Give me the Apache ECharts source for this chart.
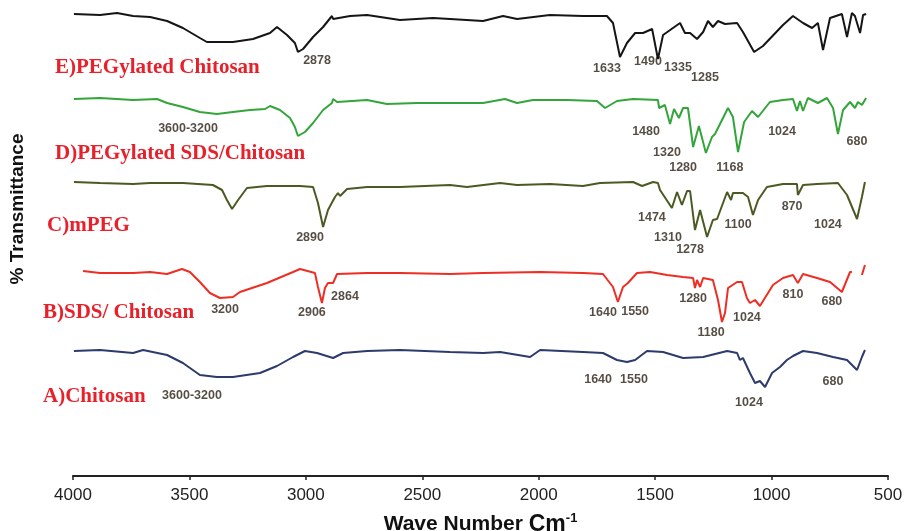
<!DOCTYPE html>
<html>
<head>
<meta charset="utf-8">
<script src="https://cdn.jsdelivr.net/npm/echarts@6/dist/echarts.min.js"></script>
<style>
  html, body { margin: 0; padding: 0; background: #fff; }
  #ftir { width: 904px; height: 531px; }
</style>
</head>
<body>
<div id="ftir"></div>
<script>
// x tick labels (wave number, cm-1), axis runs 4000 -> 500
var xTicks = [4000, 3500, 3000, 2500, 2000, 1500, 1000, 500];

// spectra: [wave number, %T (stacked, arbitrary offset)]
var specE = [[3996,92.4],[3884,92.2],[3811,92.6],[3742,92.0],[3669,91.8],[3596,91.0],[3528,89.6],[3455,87.6],[3425,86.8],[3313,86.8],[3227,87.4],[3154,88.6],[3124,89.8],[3081,88.2],[3047,86.6],[3034,84.8],[3012,85.4],[2969,87.8],[2926,89.8],[2888,92.0],[2883,91.4],[2810,92.0],[2737,92.2],[2652,91.6],[2596,91.2],[2454,91.6],[2381,91.4],[2239,91.0],[2153,92.0],[2093,91.4],[1952,92.2],[1810,92.0],[1707,92.0],[1681,90.6],[1651,83.8],[1621,86.6],[1586,88.6],[1552,88.6],[1513,89.4],[1488,83.4],[1466,88.2],[1393,90.6],[1372,88.6],[1350,88.6],[1320,87.4],[1294,88.8],[1273,91.0],[1252,89.8],[1230,91.0],[1200,90.4],[1148,90.6],[1123,88.8],[1075,84.8],[1037,86.0],[951,90.2],[908,92.0],[865,90.6],[826,89.6],[801,90.6],[779,85.2],[749,91.6],[698,92.4],[676,87.8],[655,92.6],[642,92.0],[620,88.6],[607,92.2],[594,92.4]];

var specD = [[3996,75.4],[3884,75.6],[3742,75.2],[3639,75.4],[3596,74.6],[3528,73.8],[3455,72.8],[3382,72.4],[3313,72.8],[3240,73.2],[3175,73.4],[3167,73.0],[3154,74.0],[3111,73.2],[3068,71.6],[3047,69.8],[3034,68.0],[3004,68.8],[2969,70.6],[2926,73.2],[2888,74.6],[2883,75.4],[2866,74.8],[2737,75.2],[2652,74.4],[2523,74.6],[2381,74.6],[2239,74.6],[2145,75.4],[2093,74.6],[2025,75.2],[1879,75.2],[1750,75.0],[1715,73.6],[1664,75.0],[1595,75.4],[1488,75.2],[1483,73.6],[1458,74.2],[1436,70.4],[1419,73.4],[1398,71.6],[1380,73.6],[1359,73.6],[1337,65.8],[1312,70.0],[1282,64.6],[1256,67.8],[1243,68.4],[1187,73.6],[1166,71.8],[1144,64.8],[1118,70.8],[1084,73.0],[1058,71.8],[1041,72.8],[1007,74.8],[951,75.2],[908,75.4],[891,73.0],[878,75.0],[865,73.0],[844,75.6],[801,74.6],[762,75.6],[736,73.6],[715,68.4],[693,73.2],[663,74.8],[642,73.6],[629,74.8],[612,74.2],[594,75.6]];

var specC = [[3996,58.8],[3884,58.6],[3742,58.4],[3669,58.6],[3528,58.6],[3399,58.2],[3360,57.2],[3339,55.2],[3317,53.4],[3291,55.2],[3253,57.6],[3167,58.0],[3025,58.0],[2969,57.8],[2948,54.6],[2926,49.8],[2905,53.2],[2875,55.8],[2862,56.6],[2853,56.0],[2823,57.4],[2737,57.8],[2596,57.8],[2381,58.2],[2308,57.8],[2166,58.6],[2093,58.2],[1952,58.4],[1810,58.0],[1737,58.6],[1595,58.8],[1556,58.0],[1509,58.8],[1488,58.6],[1479,57.2],[1428,53.6],[1406,56.8],[1385,54.2],[1363,57.0],[1350,57.0],[1329,49.2],[1307,53.2],[1277,47.8],[1252,51.2],[1234,51.4],[1191,56.8],[1174,55.2],[1166,56.6],[1123,56.6],[1101,55.8],[1080,52.2],[1058,55.2],[1020,57.8],[951,58.4],[891,58.4],[887,56.2],[865,58.2],[805,58.4],[715,58.6],[676,56.2],[633,51.4],[612,55.8],[599,58.8]];

var specB = [[3957,41.0],[3884,40.6],[3742,40.6],[3669,40.8],[3596,40.4],[3532,41.4],[3498,40.8],[3455,38.8],[3412,36.6],[3369,35.6],[3313,35.8],[3283,36.8],[3167,38.6],[3055,40.8],[3025,41.4],[2961,40.6],[2948,37.8],[2931,34.6],[2918,37.6],[2905,38.6],[2883,38.6],[2866,40.4],[2737,40.6],[2596,40.6],[2381,40.4],[2239,40.6],[1994,40.8],[1810,40.6],[1724,40.4],[1681,37.8],[1660,34.8],[1638,37.8],[1617,38.6],[1578,40.6],[1522,40.8],[1449,40.2],[1380,39.8],[1337,39.6],[1329,37.6],[1320,39.2],[1307,37.8],[1294,39.6],[1252,39.2],[1230,35.2],[1213,30.8],[1200,32.6],[1187,37.6],[1148,38.8],[1127,38.8],[1106,35.6],[1093,34.6],[1071,35.2],[1050,34.0],[994,38.2],[951,39.6],[908,40.2],[887,38.6],[865,40.4],[805,39.6],[749,38.8],[698,36.8],[663,40.8],[655,40.8],[640,'-'],[612,40.2],[599,42.2]];

var specA = [[3996,25.0],[3884,25.2],[3742,24.6],[3699,25.2],[3596,24.2],[3528,22.6],[3455,20.2],[3382,19.8],[3313,19.8],[3197,20.6],[3124,22.0],[3055,23.8],[3004,25.0],[2952,24.6],[2883,23.6],[2840,24.6],[2737,25.0],[2596,25.2],[2381,24.8],[2239,24.6],[2166,24.8],[2037,23.8],[1994,25.2],[1810,24.8],[1724,24.6],[1664,23.2],[1621,22.8],[1586,23.2],[1535,25.0],[1466,24.8],[1380,23.6],[1294,23.8],[1191,25.0],[1148,24.6],[1136,23.2],[1123,23.6],[1093,20.6],[1071,18.6],[1050,19.0],[1028,17.8],[998,20.6],[964,21.8],[934,23.2],[908,24.0],[865,25.0],[805,24.6],[736,23.8],[676,23.2],[633,21.2],[612,23.8],[599,25.2]];

// peak annotations: [wave number, %T, text]
var peaksE = [[2952,83,'2878'],[1707,81.4,'1633'],[1531,82.8,'1490'],[1402,81.6,'1335'],[1286,79.6,'1285']];
var peaksD = [[3506,69.4,'3600-3200'],[1539,68.8,'1480'],[1449,64.6,'1320'],[1380,61.6,'1280'],[1179,61.6,'1168'],[955,68.8,'1024'],[633,66.8,'680']];
var peaksC = [[2982,47.6,'2890'],[1514,51.6,'1474'],[1445,47.6,'1310'],[1350,45.2,'1278'],[1144,50.2,'1100'],[912,53.8,'870'],[758,50.2,'1024']];
var peaksB = [[3347,33.2,'3200'],[2974,32.6,'2906'],[2832,35.8,'2864'],[1724,32.6,'1640'],[1586,32.8,'1550'],[1337,35.4,'1280'],[1260,28.6,'1180'],[1106,31.6,'1024'],[908,36.2,'810'],[741,34.8,'680']];
var peaksA = [[3489,16,'3600-3200'],[1745,19.2,'1640'],[1591,19.2,'1550'],[1097,14.6,'1024'],[736,18.8,'680']];

var sampleNames = ['E)PEGylated Chitosan', 'D)PEGylated SDS/Chitosan', 'C)mPEG', 'B)SDS/ Chitosan', 'A)Chitosan'];

var chart = echarts.init(document.getElementById('ftir'));

var spectra = [specE, specD, specC, specB, specA];
var colors = ['#151515', '#33a53a', '#4b5a22', '#ee2e24', '#2d3a6c'];
var peaks = [].concat(peaksE, peaksD, peaksC, peaksB, peaksA);
// where each sample name sits (left edge, middle)
var namePos = [[55, 68], [55, 154], [47, 226], [43, 313], [43, 397]];

var series = spectra.map(function (d, i) {
    return {
        name: sampleNames[i],
        type: 'line',
        data: d,
        showSymbol: false,
        connectNulls: false,
        lineStyle: { color: colors[i], width: 2 },
        silent: true
    };
});
series.push({
    type: 'scatter',
    data: peaks,
    symbolSize: 0,
    silent: true,
    label: {
        show: true,
        position: 'inside',
        formatter: function (p) { return p.data[2]; },
        color: '#2a1f14',
        fontFamily: 'Liberation Sans',
        fontWeight: 'bold',
        fontSize: 12.5
    }
});

var graphics = sampleNames.map(function (n, i) {
    return {
        type: 'text',
        x: namePos[i][0],
        y: namePos[i][1],
        style: {
            text: n,
            fill: '#e8202a',
            font: 'bold 21px "Liberation Serif"',
            textAlign: 'left',
            textVerticalAlign: 'middle'
        }
    };
});
graphics.push({
    type: 'text',
    x: 18,
    y: 209,
    rotation: Math.PI / 2,
    style: {
        text: '% Transmittance',
        fill: '#111',
        font: 'bold 19px "Liberation Sans"',
        textAlign: 'center',
        textVerticalAlign: 'middle'
    }
});

var option = {
    animation: false,
    grid: { left: 73, right: 16, top: 1, bottom: 55, outerBoundsMode: 'none', containLabel: false },
    xAxis: {
        type: 'value',
        inverse: true,
        min: xTicks[xTicks.length - 1],
        max: xTicks[0],
        interval: 500,
        splitLine: { show: false },
        axisLine: { lineStyle: { color: '#222', width: 2 } },
        axisTick: { length: 4, lineStyle: { color: '#222', width: 1.5 } },
        axisLabel: {
            color: '#222',
            fontFamily: 'Liberation Sans',
            fontSize: 17,
            margin: 11,
            formatter: function (v) { return String(v); }
        },
        name: '{n|Wave Number }{c|Cm}{s|-1}',
        nameLocation: 'middle',
        nameGap: 36,
        nameTextStyle: {
            rich: {
                n: { fontFamily: 'Liberation Sans', fontWeight: 'bold', fontSize: 21, color: '#111' },
                c: { fontFamily: 'Liberation Sans', fontWeight: 'bold', fontSize: 23, color: '#111' },
                s: { fontFamily: 'Liberation Sans', fontWeight: 'bold', fontSize: 13, color: '#111', verticalAlign: 'top', padding: [0, 0, 12, 0] }
            }
        }
    },
    yAxis: {
        type: 'value',
        min: 0,
        max: 95,
        show: false
    },
    graphic: graphics,
    series: series
};
chart.setOption(option);
</script>
</body>
</html>
